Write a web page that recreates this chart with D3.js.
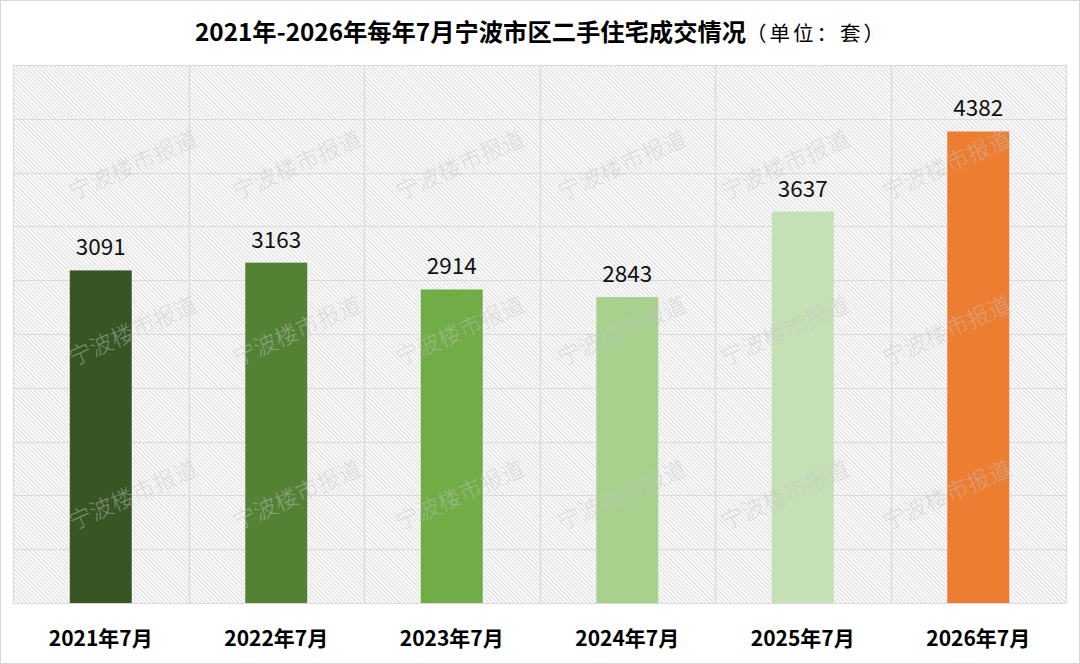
<!DOCTYPE html>
<html>
<head>
<meta charset="utf-8">
<title></title>
<script src="https://d3js.org/d3.v7.min.js"></script>
<style>
  body { margin: 0; background: #fff; }
  svg { display: block; font-family: "Noto Sans CJK SC", "Noto Sans", sans-serif; }
</style>
</head>
<body>
<div class="main_div"></div>
<script>

// data
var categories = ["2021年7月", "2022年7月", "2023年7月", "2024年7月", "2025年7月", "2026年7月"];
var values = [3091, 3163, 2914, 2843, 3637, 4382];
var barColors = ["#375623", "#548235", "#70ad47", "#a9d18e", "#c5e0b4", "#ed7d31"];
var titleMain = "2021年-2026年每年7月宁波市区二手住宅成交情况";
var titleUnit = "（单位：套）";
var watermark = "宁波楼市报道";

var W = 1080, H = 664;
var plot = {left: 13, right: 1066, top: 65, bottom: 603};

var svg = d3.select(".main_div").append("svg")
  .attr("width", W).attr("height", H);

// hatch background
var defs = svg.append("defs");
defs.append("pattern")
  .attr("id", "hatch")
  .attr("patternUnits", "userSpaceOnUse")
  .attr("width", 3).attr("height", 3)
  .attr("patternTransform", "rotate(-45)")
  .call(function(p) {
    p.append("rect").attr("width", 3).attr("height", 3).attr("fill", "#fbfbfb");
    p.append("line").attr("x1", 0.5).attr("x2", 0.5).attr("y1", 0).attr("y2", 3)
      .attr("stroke", "#dcdcdc").attr("stroke-width", 1);
  });

// outer border
svg.append("rect")
  .attr("x", 0.5).attr("y", 0.5).attr("width", W - 1).attr("height", H - 1)
  .attr("fill", "#fff").attr("stroke", "#d9d9d9");

// scales
var x = d3.scaleBand().domain(categories).range([plot.left, plot.right]).padding(0);
var y = d3.scaleLinear().domain([0, 5000]).range([plot.bottom, plot.top]);
var barW = x.bandwidth() * 0.353;

svg.append("rect")
  .attr("x", plot.left).attr("y", plot.top)
  .attr("width", plot.right - plot.left).attr("height", plot.bottom - plot.top)
  .attr("fill", "url(#hatch)");

// gridlines
svg.append("g").selectAll("line").data(y.ticks(10)).enter().append("line")
  .attr("x1", plot.left).attr("x2", plot.right)
  .attr("y1", function(d){ return Math.round(y(d)) + 0.5; })
  .attr("y2", function(d){ return Math.round(y(d)) + 0.5; })
  .attr("stroke", "#dadada").attr("stroke-width", 1.2);

var bounds = categories.map(function(c){ return x(c); }).concat([x.range()[1]]);
svg.append("g").selectAll("line").data(bounds).enter().append("line")
  .attr("x1", function(d){ return Math.round(d) + 0.5; })
  .attr("x2", function(d){ return Math.round(d) + 0.5; })
  .attr("y1", plot.top).attr("y2", plot.bottom)
  .attr("stroke", "#dadada").attr("stroke-width", 1.2);

// bars
svg.append("g").selectAll("rect").data(values).enter().append("rect")
  .attr("x", function(d, i){ return x(categories[i]) + (x.bandwidth() - barW) / 2; })
  .attr("y", function(d){ return y(d); })
  .attr("width", barW)
  .attr("height", function(d){ return y(0) - y(d); })
  .attr("fill", function(d, i){ return barColors[i]; });

// value labels
svg.append("g").selectAll("text").data(values).enter().append("text")
  .attr("x", function(d, i){ return x(categories[i]) + x.bandwidth() / 2; })
  .attr("y", function(d){ return y(d) - 15; })
  .attr("text-anchor", "middle")
  .attr("font-size", 22.5)
  .attr("fill", "#111")
  .text(function(d){ return d; });

// watermark
var wmX = [133, 297, 460, 622, 785, 947];
var wmY = [165, 331, 495];
var wm = svg.append("g").attr("fill", "#c4c4c4").attr("fill-opacity", 0.5);
wmY.forEach(function(yy) {
  wmX.forEach(function(xx) {
    wm.append("text")
      .attr("transform", "translate(" + xx + "," + yy + ") rotate(-24)")
      .attr("text-anchor", "middle")
      .attr("dy", "0.35em")
      .attr("font-size", 23)
      .attr("font-weight", 300)
      .text(watermark);
  });
});

// x labels
svg.append("g").selectAll("text").data(categories).enter().append("text")
  .attr("x", function(d){ return x(d) + x.bandwidth() / 2; })
  .attr("y", 646)
  .attr("text-anchor", "middle")
  .attr("font-size", 21)
  .attr("font-weight", "bold")
  .attr("fill", "#000")
  .text(function(d){ return d; });

// title
var title = svg.append("text")
  .attr("x", 195).attr("y", 41)
  .attr("text-anchor", "start")
  .attr("fill", "#000");
title.append("tspan").attr("font-size", 24.3).attr("font-weight", "bold").text(titleMain);
title.append("tspan").attr("font-size", 20.5).attr("font-weight", "normal")
  .attr("letter-spacing", 3).text(titleUnit);

</script>
</body>
</html>
